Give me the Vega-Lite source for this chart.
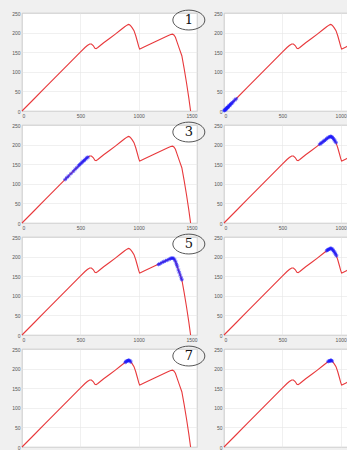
{
  "$schema": "https://vega.github.io/schema/vega-lite/v6.json",
  "background": "#f0f0f0",
  "padding": {"left": 11, "top": 7, "right": 0, "bottom": 0},
  "datasets": {
    "curve": [
      {"x":0,"y":0},{"x":100,"y":30},{"x":200,"y":60},{"x":300,"y":90},{"x":400,"y":120},{"x":500,"y":150},
      {"x":540,"y":162},{"x":560,"y":167},{"x":580,"y":171},{"x":595,"y":171},{"x":610,"y":167},{"x":625,"y":160},
      {"x":635,"y":159},{"x":650,"y":162},{"x":700,"y":174},{"x":750,"y":185},{"x":800,"y":196},{"x":850,"y":208},
      {"x":880,"y":215},{"x":900,"y":219},{"x":912,"y":221},{"x":922,"y":220},{"x":932,"y":217},{"x":945,"y":212},
      {"x":960,"y":205},{"x":975,"y":192},{"x":990,"y":176},{"x":1000,"y":165},{"x":1008,"y":158},{"x":1015,"y":159},
      {"x":1050,"y":164},{"x":1100,"y":171},{"x":1150,"y":178},{"x":1200,"y":185},{"x":1250,"y":192},{"x":1275,"y":195},
      {"x":1290,"y":196},{"x":1302,"y":194},{"x":1315,"y":188},{"x":1330,"y":175},{"x":1350,"y":158},{"x":1370,"y":141},
      {"x":1390,"y":108},{"x":1410,"y":72},{"x":1430,"y":33},{"x":1445,"y":0}
    ],
    "pts": [
      {"panel":2,"x":2,"y":1},{"panel":2,"x":6,"y":2},{"panel":2,"x":10,"y":3},{"panel":2,"x":14,"y":4},{"panel":2,"x":18,"y":5},
      {"panel":2,"x":22,"y":7},{"panel":2,"x":26,"y":8},{"panel":2,"x":30,"y":9},{"panel":2,"x":35,"y":10},{"panel":2,"x":40,"y":12},
      {"panel":2,"x":45,"y":13},{"panel":2,"x":50,"y":15},{"panel":2,"x":56,"y":17},{"panel":2,"x":62,"y":19},{"panel":2,"x":70,"y":21},
      {"panel":2,"x":80,"y":24},{"panel":2,"x":92,"y":28},{"panel":2,"x":105,"y":31},
      {"panel":3,"x":370,"y":111},{"panel":3,"x":385,"y":116},{"panel":3,"x":400,"y":120},{"panel":3,"x":420,"y":126},
      {"panel":3,"x":440,"y":132},{"panel":3,"x":455,"y":137},{"panel":3,"x":470,"y":141},{"panel":3,"x":485,"y":146},
      {"panel":3,"x":495,"y":149},{"panel":3,"x":505,"y":152},{"panel":3,"x":515,"y":155},{"panel":3,"x":525,"y":158},
      {"panel":3,"x":535,"y":160},{"panel":3,"x":545,"y":163},{"panel":3,"x":555,"y":166},{"panel":3,"x":565,"y":168},
      {"panel":4,"x":820,"y":201},{"panel":4,"x":830,"y":203},{"panel":4,"x":840,"y":205},{"panel":4,"x":850,"y":208},
      {"panel":4,"x":860,"y":210},{"panel":4,"x":870,"y":212},{"panel":4,"x":880,"y":215},{"panel":4,"x":890,"y":217},
      {"panel":4,"x":900,"y":219},{"panel":4,"x":908,"y":220},{"panel":4,"x":915,"y":221},{"panel":4,"x":922,"y":220},
      {"panel":4,"x":930,"y":218},{"panel":4,"x":938,"y":215},{"panel":4,"x":945,"y":212},{"panel":4,"x":952,"y":209},
      {"panel":4,"x":960,"y":205},
      {"panel":5,"x":1170,"y":180},{"panel":5,"x":1185,"y":182},{"panel":5,"x":1200,"y":185},{"panel":5,"x":1215,"y":187},
      {"panel":5,"x":1230,"y":189},{"panel":5,"x":1245,"y":191},{"panel":5,"x":1260,"y":193},{"panel":5,"x":1272,"y":195},
      {"panel":5,"x":1283,"y":196},{"panel":5,"x":1292,"y":196},{"panel":5,"x":1300,"y":195},{"panel":5,"x":1310,"y":191},
      {"panel":5,"x":1318,"y":186},{"panel":5,"x":1325,"y":180},{"panel":5,"x":1332,"y":174},{"panel":5,"x":1340,"y":166},
      {"panel":5,"x":1348,"y":160},{"panel":5,"x":1356,"y":153},{"panel":5,"x":1364,"y":146},{"panel":5,"x":1370,"y":141},
      {"panel":6,"x":880,"y":215},{"panel":6,"x":888,"y":217},{"panel":6,"x":895,"y":218},{"panel":6,"x":902,"y":219},
      {"panel":6,"x":910,"y":221},{"panel":6,"x":918,"y":221},{"panel":6,"x":925,"y":220},{"panel":6,"x":932,"y":217},
      {"panel":6,"x":938,"y":215},{"panel":6,"x":945,"y":212},{"panel":6,"x":952,"y":209},{"panel":6,"x":958,"y":206},
      {"panel":6,"x":964,"y":202},
      {"panel":7,"x":885,"y":216},{"panel":7,"x":892,"y":218},{"panel":7,"x":898,"y":219},{"panel":7,"x":905,"y":220},
      {"panel":7,"x":912,"y":221},{"panel":7,"x":918,"y":221},{"panel":7,"x":925,"y":220},{"panel":7,"x":932,"y":217},
      {"panel":8,"x":893,"y":218},{"panel":8,"x":900,"y":219},{"panel":8,"x":907,"y":220},{"panel":8,"x":914,"y":221},
      {"panel":8,"x":920,"y":221},{"panel":8,"x":927,"y":219}
    ],
    "labels": [
      {"panel":1,"t":"1","x":1430,"y":232},
      {"panel":3,"t":"3","x":1430,"y":232},
      {"panel":5,"t":"5","x":1430,"y":232},
      {"panel":7,"t":"7","x":1430,"y":232}
    ]
  },
  "columns": 2,
  "spacing": {"row": 14, "column": 27},
  "bounds": "flush",
  "config": {
    "view": {"fill": "white", "stroke": "#a8a8a8", "strokeWidth": 0.8},
    "axis": {"labelFontSize": 5, "labelColor": "#555", "labelPadding": 2, "ticks": false, "domain": false,
             "grid": true, "gridColor": "#e6e6e6", "gridWidth": 0.6, "title": null, "labelFont": "Liberation Sans"},
    "line": {"color": "#e8393c", "strokeWidth": 1.1},
    "point": {"color": "#1a1aff", "filled": false, "strokeWidth": 1, "size": 14,
              "shape": "M-1,0L1,0M0,-1L0,1M-0.7,-0.7L0.7,0.7M-0.7,0.7L0.7,-0.7"}
  },
  "concat": [
    {"width":175,"height":98,
     "encoding":{"x":{"field":"x","type":"quantitative","scale":{"domain":[0,1500]},"axis":{"values":[0,500,1000,1500],"format":"d"}},
                 "y":{"field":"y","type":"quantitative","scale":{"domain":[0,250]},"axis":{"values":[0,50,100,150,200,250],"format":"d"}}},
     "layer":[
      {"data":{"name":"curve"},"mark":"line"},
      {"data":{"name":"labels"},"transform":[{"filter":"datum.panel==1"}],
       "mark":{"type":"point","shape":"M-1,0A1,0.62 0 1,0 1,0A1,0.62 0 1,0 -1,0","size":1024,"filled":false,"color":"#111","strokeWidth":1}},
      {"data":{"name":"labels"},"transform":[{"filter":"datum.panel==1"}],
       "mark":{"type":"text","font":"DejaVu Serif","fontSize":13,"color":"#111","baseline":"middle"},"encoding":{"text":{"field":"t"}}}
     ]},
    {"width":175,"height":98,
     "encoding":{"x":{"field":"x","type":"quantitative","scale":{"domain":[0,1500]},"axis":{"values":[0,500,1000,1500],"format":"d"}},
                 "y":{"field":"y","type":"quantitative","scale":{"domain":[0,250]},"axis":{"values":[0,50,100,150,200,250],"format":"d"}}},
     "layer":[
      {"data":{"name":"curve"},"mark":"line"},
      {"data":{"name":"pts"},"transform":[{"filter":"datum.panel==2"}],"mark":"point"}
     ]},
    {"width":175,"height":98,
     "encoding":{"x":{"field":"x","type":"quantitative","scale":{"domain":[0,1500]},"axis":{"values":[0,500,1000,1500],"format":"d"}},
                 "y":{"field":"y","type":"quantitative","scale":{"domain":[0,250]},"axis":{"values":[0,50,100,150,200,250],"format":"d"}}},
     "layer":[
      {"data":{"name":"curve"},"mark":"line"},
      {"data":{"name":"pts"},"transform":[{"filter":"datum.panel==3"}],"mark":"point"},
      {"data":{"name":"labels"},"transform":[{"filter":"datum.panel==3"}],
       "mark":{"type":"point","shape":"M-1,0A1,0.62 0 1,0 1,0A1,0.62 0 1,0 -1,0","size":1024,"filled":false,"color":"#111","strokeWidth":1}},
      {"data":{"name":"labels"},"transform":[{"filter":"datum.panel==3"}],
       "mark":{"type":"text","font":"DejaVu Serif","fontSize":13,"color":"#111","baseline":"middle"},"encoding":{"text":{"field":"t"}}}
     ]},
    {"width":175,"height":98,
     "encoding":{"x":{"field":"x","type":"quantitative","scale":{"domain":[0,1500]},"axis":{"values":[0,500,1000,1500],"format":"d"}},
                 "y":{"field":"y","type":"quantitative","scale":{"domain":[0,250]},"axis":{"values":[0,50,100,150,200,250],"format":"d"}}},
     "layer":[
      {"data":{"name":"curve"},"mark":"line"},
      {"data":{"name":"pts"},"transform":[{"filter":"datum.panel==4"}],"mark":"point"}
     ]},
    {"width":175,"height":98,
     "encoding":{"x":{"field":"x","type":"quantitative","scale":{"domain":[0,1500]},"axis":{"values":[0,500,1000,1500],"format":"d"}},
                 "y":{"field":"y","type":"quantitative","scale":{"domain":[0,250]},"axis":{"values":[0,50,100,150,200,250],"format":"d"}}},
     "layer":[
      {"data":{"name":"curve"},"mark":"line"},
      {"data":{"name":"pts"},"transform":[{"filter":"datum.panel==5"}],"mark":"point"},
      {"data":{"name":"labels"},"transform":[{"filter":"datum.panel==5"}],
       "mark":{"type":"point","shape":"M-1,0A1,0.62 0 1,0 1,0A1,0.62 0 1,0 -1,0","size":1024,"filled":false,"color":"#111","strokeWidth":1}},
      {"data":{"name":"labels"},"transform":[{"filter":"datum.panel==5"}],
       "mark":{"type":"text","font":"DejaVu Serif","fontSize":13,"color":"#111","baseline":"middle"},"encoding":{"text":{"field":"t"}}}
     ]},
    {"width":175,"height":98,
     "encoding":{"x":{"field":"x","type":"quantitative","scale":{"domain":[0,1500]},"axis":{"values":[0,500,1000,1500],"format":"d"}},
                 "y":{"field":"y","type":"quantitative","scale":{"domain":[0,250]},"axis":{"values":[0,50,100,150,200,250],"format":"d"}}},
     "layer":[
      {"data":{"name":"curve"},"mark":"line"},
      {"data":{"name":"pts"},"transform":[{"filter":"datum.panel==6"}],"mark":"point"}
     ]},
    {"width":175,"height":98,
     "encoding":{"x":{"field":"x","type":"quantitative","scale":{"domain":[0,1500]},"axis":{"values":[0,500,1000,1500],"format":"d"}},
                 "y":{"field":"y","type":"quantitative","scale":{"domain":[0,250]},"axis":{"values":[0,50,100,150,200,250],"format":"d"}}},
     "layer":[
      {"data":{"name":"curve"},"mark":"line"},
      {"data":{"name":"pts"},"transform":[{"filter":"datum.panel==7"}],"mark":"point"},
      {"data":{"name":"labels"},"transform":[{"filter":"datum.panel==7"}],
       "mark":{"type":"point","shape":"M-1,0A1,0.62 0 1,0 1,0A1,0.62 0 1,0 -1,0","size":1024,"filled":false,"color":"#111","strokeWidth":1}},
      {"data":{"name":"labels"},"transform":[{"filter":"datum.panel==7"}],
       "mark":{"type":"text","font":"DejaVu Serif","fontSize":13,"color":"#111","baseline":"middle"},"encoding":{"text":{"field":"t"}}}
     ]},
    {"width":175,"height":98,
     "encoding":{"x":{"field":"x","type":"quantitative","scale":{"domain":[0,1500]},"axis":{"values":[0,500,1000,1500],"format":"d"}},
                 "y":{"field":"y","type":"quantitative","scale":{"domain":[0,250]},"axis":{"values":[0,50,100,150,200,250],"format":"d"}}},
     "layer":[
      {"data":{"name":"curve"},"mark":"line"},
      {"data":{"name":"pts"},"transform":[{"filter":"datum.panel==8"}],"mark":"point"}
     ]}
  ]
}
